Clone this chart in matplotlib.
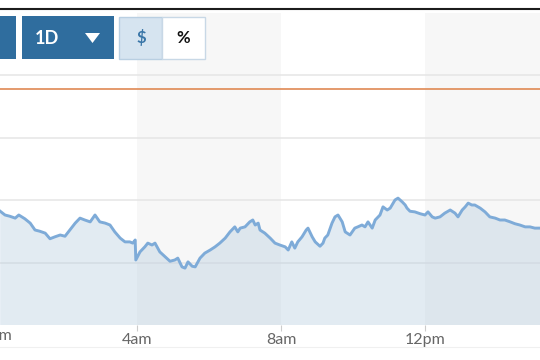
import matplotlib
matplotlib.use("Agg")
import matplotlib.pyplot as plt
from matplotlib.patches import Rectangle, Polygon

plt.rcParams['font.family'] = ['Lato', 'DejaVu Sans']

# intraday prices: minutes since midnight and price
minutes = [12, 20, 28, 37, 43, 53, 62, 70, 78, 87, 95, 103, 112, 120, 128, 137,
           145, 153, 162, 170, 178, 187, 195, 203, 212, 220, 228, 233, 237, 238,
           245, 253, 258, 265, 270, 278, 287, 295, 303, 308, 315, 320, 325, 332,
           337, 345, 353, 362, 370, 378, 387, 395, 403, 408, 412, 420, 428, 433,
           437, 442, 445, 453, 462, 470, 478, 487, 492, 498, 503, 508, 515, 522,
           525, 532, 537, 545, 550, 553, 558, 565, 570, 575, 582, 587, 595, 603,
           608, 615, 620, 625, 632, 637, 645, 650, 657, 662, 670, 675, 682, 687,
           690, 695, 703, 712, 720, 725, 732, 737, 745, 753, 762, 770, 775, 782,
           787, 792, 798, 803, 812, 820, 828, 837, 845, 853, 862, 870, 878, 887,
           895, 903, 912]
prices = [99.82, 99.76, 99.74, 99.71, 99.76, 99.70, 99.63, 99.52, 99.50, 99.47,
          99.38, 99.41, 99.44, 99.42, 99.52, 99.63, 99.71, 99.68, 99.65, 99.76,
          99.65, 99.63, 99.60, 99.49, 99.39, 99.33, 99.33, 99.31, 99.36, 99.04,
          99.17, 99.25, 99.31, 99.28, 99.31, 99.17, 99.09, 99.02, 99.04, 99.07,
          98.93, 98.91, 99.01, 98.94, 98.93, 99.07, 99.15, 99.20, 99.25, 99.31,
          99.39, 99.49, 99.57, 99.49, 99.55, 99.57, 99.65, 99.68, 99.60, 99.63,
          99.52, 99.47, 99.39, 99.31, 99.28, 99.25, 99.20, 99.33, 99.23, 99.33,
          99.41, 99.52, 99.55, 99.41, 99.33, 99.26, 99.31, 99.39, 99.44, 99.63,
          99.73, 99.76, 99.65, 99.49, 99.44, 99.55, 99.57, 99.60, 99.57, 99.65,
          99.55, 99.68, 99.76, 99.89, 99.84, 99.87, 100.00, 100.03, 99.97, 99.92,
          99.87, 99.82, 99.81, 99.78, 99.76, 99.81, 99.73, 99.71, 99.73, 99.79,
          99.84, 99.79, 99.73, 99.84, 99.89, 99.95, 99.92, 99.92, 99.87, 99.81,
          99.73, 99.71, 99.68, 99.68, 99.65, 99.62, 99.60, 99.57, 99.57, 99.55,
          99.55]
prev_close = 101.78

tick_minutes = [0, 240, 480, 720, 960]
tick_labels = ['12am', '4am', '8am', '12pm', '4pm']
grid_levels = [99, 100, 101, 102]
x_range = (11.67, 911.67)

fig = plt.figure(figsize=(5.4, 3.6), dpi=100)
fig.patch.set_facecolor('white')
ax = fig.add_axes([0, 35 / 360, 1, 312.5 / 360])

# alternating time bands
for start in tick_minutes[1::2]:
    ax.axvspan(start, start + 240, color='#f7f7f7', lw=0, zorder=0)
for lvl in grid_levels:
    ax.axhline(lvl, color='#e6e6e6', lw=1.1, zorder=1)

ax.fill_between(minutes, prices, 98, color='#b7cde0', alpha=0.4, lw=0, zorder=2)
ax.plot(minutes, prices, color='#7eabd8', lw=2.1, zorder=3)
ax.axhline(prev_close, color='#dd7f45', lw=1.1, zorder=3)

ax.set_xticks(tick_minutes)
ax.set_xticklabels(tick_labels)
ax.set_yticks([])
ax.set_xlim(*x_range)
ax.set_ylim(98, 103)
ax.tick_params(axis='x', length=4, width=0.8, color='#cccccc', labelcolor='#666666',
               labelsize=11.5, pad=1.5)
for s in ax.spines.values():
    s.set_visible(False)

# the midnight label sits just past the left edge, so only its tail shows
ax.text(tick_minutes[0], -0.012, tick_labels[0], transform=ax.get_xaxis_transform(),
        ha='center', va='top', fontsize=11.5, color='#666666', clip_on=False)

# toolbar overlay in pixel coordinates
ui = fig.add_axes([0, 0, 1, 1], zorder=5)
ui.set_xlim(0, 540)
ui.set_ylim(360, 0)
ui.axis('off')
ui.patch.set_alpha(0)

ui.plot([0, 540], [9, 9], color='#1c1c1c', lw=1.5)
ui.plot([0, 540], [347, 347], color='#f0f0f0', lw=0.8)

blue = '#2f6d9e'
ui.add_patch(Rectangle((-2, 16), 18, 43, facecolor=blue, edgecolor='none'))
ui.add_patch(Rectangle((22, 16), 92, 43, facecolor=blue, edgecolor='none'))
ui.text(35, 38, '1D', color='white', fontsize=13, fontweight='bold',
        ha='left', va='center')
ui.add_patch(Polygon([(85, 33), (100, 33), (92.5, 43)], closed=True,
                     facecolor='white', edgecolor='none'))
ui.add_patch(Rectangle((118.5, 16.5), 43.5, 42, facecolor='#d6e4f0',
                       edgecolor='#b9cfe2', lw=1))
ui.text(141, 38, '$', color='#3a76a8', fontsize=12, fontweight='bold',
        ha='center', va='center')
ui.add_patch(Rectangle((162, 16.5), 43, 42, facecolor='white',
                       edgecolor='#c8d8e6', lw=1))
ui.text(183.5, 38, '%', color='#111111', fontsize=12, fontweight='bold',
        ha='center', va='center')

fig.savefig('out.png', dpi=100)
